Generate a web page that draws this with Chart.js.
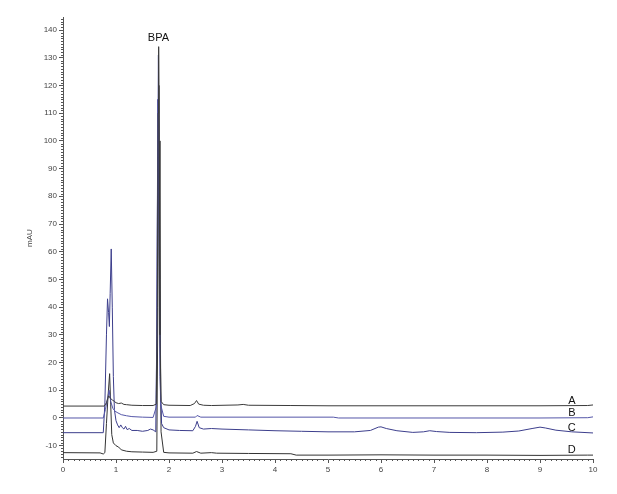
<!DOCTYPE html>
<html>
<head>
<meta charset="utf-8">
<script src="https://cdn.jsdelivr.net/npm/chart.js@4"></script>
<style>
  body { margin: 0; background: #fff; }
  #wrap { width: 617px; height: 494px; }
</style>
</head>
<body>
<div id="wrap"><canvas id="chromChart" width="617" height="494"></canvas></div>
<script>
// tick labels
const xTicks = [0, 1, 2, 3, 4, 5, 6, 7, 8, 9, 10];
const yTicks = [-10, 0, 10, 20, 30, 40, 50, 60, 70, 80, 90, 100, 110, 120, 130, 140];

// trace A (black, top)
const aTime = [0, 0.78, 0.82, 0.86, 0.9, 0.93, 0.97, 1.0, 1.05, 1.1, 1.15, 1.2, 1.3, 1.5, 1.7, 1.76, 1.78, 1.795, 1.805, 1.815, 1.83, 1.85, 1.9, 2.0, 2.4, 2.48, 2.52, 2.56, 2.65, 2.8, 3.3, 3.4, 3.5, 4.3, 5, 6, 7, 8, 9, 9.9, 10];
const aVal = [4.3, 4.3, 5.5, 8, 7, 6.5, 6, 5.5, 5.2, 5.4, 4.9, 4.8, 4.6, 4.5, 4.5, 5, 40, 110, 134, 100, 30, 6, 4.8, 4.6, 4.5, 5.2, 6.3, 5, 4.6, 4.5, 4.7, 4.9, 4.6, 4.5, 4.4, 4.4, 4.4, 4.4, 4.4, 4.5, 4.7];

// trace B (blue)
const bTime = [0, 0.76, 0.8, 0.84, 0.87, 0.9, 0.94, 0.98, 1.02, 1.1, 1.2, 1.3, 1.5, 1.7, 1.76, 1.78, 1.80, 1.82, 1.84, 1.9, 2.0, 2.5, 2.53, 2.6, 3, 4, 5.1, 5.2, 6, 7, 8, 9, 9.9, 10];
const bVal = [0, 0, 3, 7, 10, 6, 3.5, 2.5, 2, 1.2, 0.8, 0.5, 0.3, 0.2, 4, 70, 131, 60, 5, 0.6, 0.3, 0.3, 0.9, 0.3, 0.3, 0.3, 0.3, 0, 0, 0, 0, 0, 0.1, 0.4];

// trace C (dark blue)
const cTime = [0, 0.76, 0.79, 0.82, 0.84, 0.86, 0.875, 0.89, 0.91, 0.93, 0.95, 0.97, 1.0, 1.03, 1.06, 1.09, 1.12, 1.15, 1.18, 1.21, 1.25, 1.3, 1.4, 1.5, 1.6, 1.65, 1.7, 1.75, 1.77, 1.79, 1.81, 1.83, 1.86, 1.9, 2.0, 2.2, 2.45, 2.5, 2.53, 2.57, 2.65, 2.8, 3.0, 3.5, 4.0, 4.5, 5.0, 5.5, 5.8, 5.95, 6.0, 6.1, 6.3, 6.6, 6.8, 6.92, 7.05, 7.3, 7.8, 8.3, 8.6, 8.85, 9.0, 9.1, 9.3, 9.6, 10];
const cVal = [-5.3, -5.3, 5, 30, 43, 38, 33, 45, 61, 40, 15, 3, -1, -2.5, -3.5, -2.5, -3.5, -4, -3, -4.2, -3.8, -4.5, -4.5, -4.8, -4.5, -4, -4.3, -5, 30, 115, 80, 15, -2, -3.5, -4.3, -4.5, -4.6, -3, -1.2, -3.5, -4, -3.8, -4, -4.3, -4.6, -4.8, -5, -5, -4.5, -3.3, -3.2, -3.8, -4.6, -5.2, -5, -4.6, -4.9, -5.2, -5.3, -5.1, -4.7, -3.8, -3.3, -3.6, -4.4, -5, -5.4];

// trace D (black, bottom)
const dTime = [0, 0.7, 0.76, 0.79, 0.82, 0.85, 0.88, 0.9, 0.92, 0.95, 1.0, 1.05, 1.1, 1.2, 1.3, 1.5, 1.7, 1.77, 1.79, 1.81, 1.83, 1.85, 1.9, 2.0, 2.45, 2.52, 2.6, 2.8, 2.9, 3.5, 4.3, 4.4, 5, 6, 7, 8, 9, 9.9, 10];
const dVal = [-12.5, -12.6, -13, -12.5, -2, 8, 16, 5, -6, -9, -10, -10.5, -11.5, -12, -12.2, -12.3, -12.4, -12, 40, 120, 50, -5, -12.4, -12.6, -12.7, -12.1, -12.7, -12.5, -12.7, -12.8, -12.9, -13.4, -13.4, -13.3, -13.4, -13.4, -13.5, -13.4, -13.4];

// trace letters at the right end, and peak name
const traceLabels = ["A", "B", "C", "D"];
const traceLabelY = [6.2, 1.8, -3.6, -11.6];

function toPoints(times, vals) {
    return times.map((t, i) => ({ x: t, y: vals[i] }));
}

function lineSet(label, times, vals, color) {
    return {
        label: label,
        data: toPoints(times, vals),
        borderColor: color,
        borderWidth: 1,
        pointRadius: 0,
        tension: 0,
        fill: false
    };
}

const font = "'Liberation Sans', Arial, sans-serif";

// small minor ticks + text labels
const extras = {
    id: "extras",
    afterDraw(chart) {
        const c = chart.ctx;
        const xs = chart.scales.x;
        const ys = chart.scales.y;
        const area = chart.chartArea;
        c.save();
        c.strokeStyle = "#555";
        c.lineWidth = 1;
        c.beginPath();
        for (let v = -14; v <= 144; v++) {
            if (v % 10 === 0) continue;
            const py = Math.round(ys.getPixelForValue(v)) + 0.5;
            c.moveTo(area.left - 2, py);
            c.lineTo(area.left, py);
        }
        for (let i = 0; i <= 100; i++) {
            if (i % 10 === 0) continue;
            const px = Math.round(xs.getPixelForValue(i / 10)) + 0.5;
            c.moveTo(px, area.bottom);
            c.lineTo(px, area.bottom + 2);
        }
        c.stroke();

        c.fillStyle = "#111";
        c.font = "11px " + font;
        c.textAlign = "center";
        c.textBaseline = "middle";
        traceLabels.forEach((t, i) => {
            c.fillText(t, xs.getPixelForValue(9.6), ys.getPixelForValue(traceLabelY[i]));
        });
        c.fillText("BPA", xs.getPixelForValue(1.8), ys.getPixelForValue(137));
        c.restore();
    }
};

new Chart(document.getElementById("chromChart"), {
    type: "line",
    data: {
        datasets: [
            lineSet("A", aTime, aVal, "#3a3a3a"),
            lineSet("B", bTime, bVal, "#5456a8"),
            lineSet("C", cTime, cVal, "#3c3e8c"),
            lineSet("D", dTime, dVal, "#333333")
        ]
    },
    options: {
        responsive: false,
        animation: false,
        layout: { padding: { left: 20, right: 24, top: 17, bottom: 0 } },
        plugins: {
            legend: { display: false },
            tooltip: { enabled: false }
        },
        scales: {
            x: {
                type: "linear",
                min: 0,
                max: 10,
                afterBuildTicks: (s) => { s.ticks = xTicks.map(v => ({ value: v })); },
                afterFit: (s) => { s.height = 35; },
                ticks: { color: "#444", font: { size: 8, family: font }, padding: 2, maxRotation: 0 },
                grid: { drawOnChartArea: false, tickLength: 4, color: "#555" },
                border: { color: "#555", width: 1 }
            },
            y: {
                min: -14.8,
                max: 144.7,
                afterBuildTicks: (s) => { s.ticks = yTicks.map(v => ({ value: v })); },
                afterFit: (s) => { s.width = 43; },
                ticks: { color: "#444", font: { size: 8, family: font }, padding: 2 },
                grid: { drawOnChartArea: false, tickLength: 4, color: "#555" },
                border: { color: "#555", width: 1 },
                title: { display: true, text: "mAU", color: "#444", font: { size: 8, family: font }, padding: { top: 5, bottom: 0 } }
            }
        }
    },
    plugins: [extras]
});
</script>
</body>
</html>
